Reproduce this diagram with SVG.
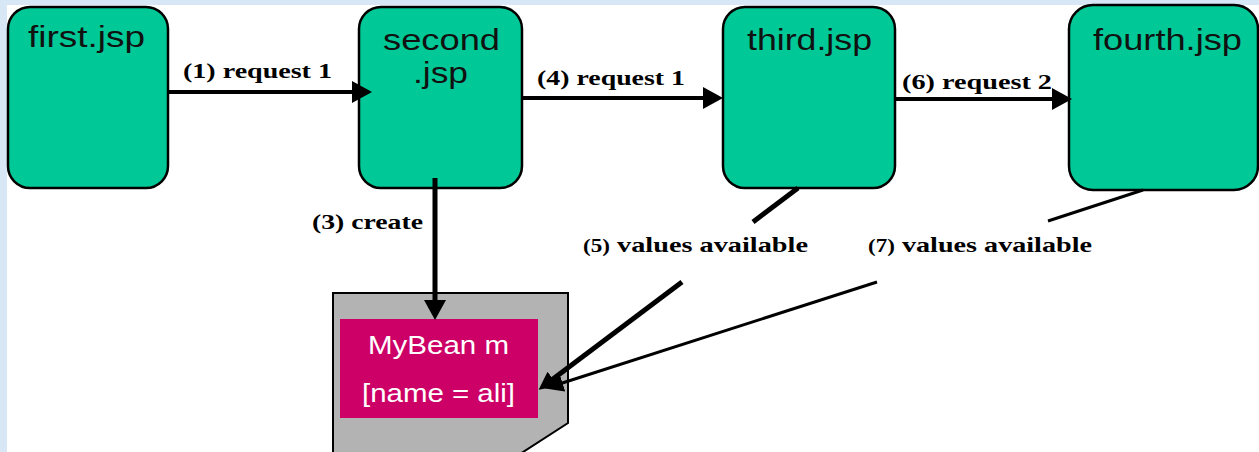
<svg xmlns="http://www.w3.org/2000/svg" width="1259" height="452" viewBox="0 0 1259 452">
  <style>
    .page { fill: #ffffff; }
    .edge { fill: #d8e7f6; }
    .jsp { fill: #00c896; stroke: #000000; stroke-width: 2.5; }
    .jsp-label { font-family: "Liberation Sans", Arial, sans-serif; font-size: 30px; fill: #111111; }
    .flow { fill: #000000; font-family: "Liberation Serif", "Times New Roman", serif; font-weight: bold; font-size: 22px; }
    .flow .num { font-size: 18px; }
    .wire { stroke: #000000; fill: none; }
    .scope { fill: #b3b3b3; stroke: #000000; stroke-width: 2; }
    .bean { fill: #cc0066; }
    .bean-label { font-family: "Liberation Sans", Arial, sans-serif; font-size: 25px; fill: #ffffff; }
  </style>
  <defs>
    <marker id="head" markerUnits="userSpaceOnUse" markerWidth="22" markerHeight="24" refX="12" refY="11" orient="auto" viewBox="0 0 22 24">
      <path d="M0,0 L20,11 L0,22 z" fill="#000000"/>
    </marker>
    <marker id="head-sm" markerUnits="userSpaceOnUse" markerWidth="20" markerHeight="20" refX="10" refY="9" orient="auto" viewBox="0 0 20 20">
      <path d="M0,0 L18,9 L0,18 z" fill="#000000"/>
    </marker>
  </defs>

  <!-- page background with tinted margins -->
  <rect class="edge" x="0" y="0" width="1259" height="452"/>
  <rect class="page" x="7" y="5" width="1252" height="447"/>

  <!-- session scope holding the bean -->
  <g id="scope">
    <path class="scope" d="M333,293 L568,293 L568,423 L520,454 L333,454 Z"/>
  </g>
  <g id="bean">
    <rect class="bean" x="340" y="319" width="198" height="99"/>
    <text class="bean-label" x="368" y="354" textLength="141" lengthAdjust="spacingAndGlyphs">MyBean m</text>
    <text class="bean-label" x="362" y="402" textLength="153" lengthAdjust="spacingAndGlyphs">[name = ali]</text>
  </g>

  <!-- pages -->
  <g id="first">
    <rect class="jsp" x="8" y="7" width="160" height="181" rx="22" ry="22"/>
    <text class="jsp-label" x="28" y="47" textLength="117" lengthAdjust="spacingAndGlyphs">first.jsp</text>
  </g>
  <g id="second">
    <rect class="jsp" x="359" y="7" width="163" height="181" rx="22" ry="22"/>
    <text class="jsp-label" x="383" y="50" textLength="117" lengthAdjust="spacingAndGlyphs">second</text>
    <text class="jsp-label" x="413" y="83" textLength="55" lengthAdjust="spacingAndGlyphs">.jsp</text>
  </g>
  <g id="third">
    <rect class="jsp" x="723" y="7" width="172" height="181" rx="22" ry="22"/>
    <text class="jsp-label" x="747" y="50" textLength="125" lengthAdjust="spacingAndGlyphs">third.jsp</text>
  </g>
  <g id="fourth">
    <rect class="jsp" x="1069" y="5" width="189" height="185" rx="24" ry="24"/>
    <text class="jsp-label" x="1093" y="50" textLength="149" lengthAdjust="spacingAndGlyphs">fourth.jsp</text>
  </g>

  <!-- connectors -->
  <g id="connectors">
    <line class="wire" x1="167" y1="92" x2="364" y2="92" stroke-width="4" marker-end="url(#head)"/>
    <line class="wire" x1="522" y1="98" x2="715" y2="98" stroke-width="4" marker-end="url(#head)"/>
    <line class="wire" x1="895" y1="99" x2="1064" y2="99" stroke-width="4" marker-end="url(#head)"/>
    <line class="wire" x1="435" y1="178" x2="435" y2="312" stroke-width="5" marker-end="url(#head)"/>
    <!-- (5) third.jsp reads the bean -->
    <line class="wire" x1="798" y1="188" x2="753" y2="222" stroke-width="5"/>
    <line class="wire" x1="682" y1="282" x2="545" y2="385" stroke-width="5" marker-end="url(#head-sm)"/>
    <!-- (7) fourth.jsp reads the bean -->
    <line class="wire" x1="1143" y1="190" x2="1048" y2="221" stroke-width="3"/>
    <line class="wire" x1="877" y1="282" x2="553" y2="386" stroke-width="3" marker-end="url(#head-sm)"/>
  </g>

  <!-- connector labels -->
  <g id="labels">
    <text class="flow" x="183" y="78" textLength="149" lengthAdjust="spacingAndGlyphs">(1) request 1</text>
    <text class="flow" x="537" y="85" textLength="148" lengthAdjust="spacingAndGlyphs">(4) request 1</text>
    <text class="flow" x="902" y="89" textLength="150" lengthAdjust="spacingAndGlyphs">(6) request 2</text>
    <text class="flow" x="312" y="229" textLength="111" lengthAdjust="spacingAndGlyphs">(3) create</text>
    <text class="flow" x="583" y="252" textLength="225" lengthAdjust="spacingAndGlyphs"><tspan class="num">(5)</tspan> values available</text>
    <text class="flow" x="868" y="252" textLength="224" lengthAdjust="spacingAndGlyphs"><tspan class="num">(7)</tspan> values available</text>
  </g>
</svg>
